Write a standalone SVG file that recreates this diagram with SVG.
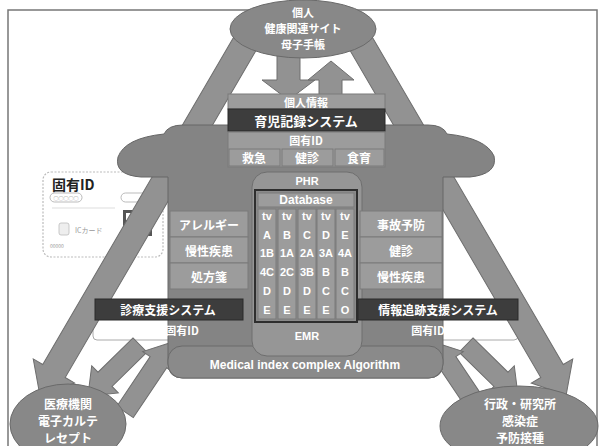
<svg xmlns="http://www.w3.org/2000/svg" width="604" height="446" viewBox="0 0 604 446">
  <style>
    .t { font-family: "Noto Sans CJK JP", "Noto Sans", sans-serif; font-weight: bold; fill: #ffffff; text-anchor: middle; dominant-baseline: central; }
    .lat { font-family: "Liberation Sans", "Noto Sans", sans-serif; }
    .s12 { font-size: 12px; }
    .s11 { font-size: 11px; }
    .s13 { font-size: 13px; }
    .flow { fill: #929292; stroke: #6e6e6e; stroke-width: 1; }
    .oval { fill: #888888; stroke: #6a6a6a; stroke-width: 1; }
    .cell { fill: #9c9c9c; stroke: #7a7a7a; stroke-width: 1; }
    .dark { fill: #3d3d3d; stroke: #2a2a2a; stroke-width: 1; }
    .idbox { fill: #ffffff; stroke: #aaaaaa; stroke-width: 1; }
    .grid { font-family: "Liberation Sans", sans-serif; font-weight: bold; font-size: 11px; fill: #ffffff; text-anchor: middle; dominant-baseline: central; }
  </style>

  <rect x="0" y="0" width="604" height="446" fill="#ffffff"/>
  <!-- outer frame -->
  <rect x="8" y="10" width="589" height="446" fill="none" stroke="#777" stroke-width="1.5"/>

  <!-- ID card -->
  <g id="id-card">
    <rect x="43" y="172" width="120" height="85" rx="8" fill="#ffffff" stroke="#bbbbbb" stroke-width="1.2" stroke-dasharray="2 1.5"/>
    <text x="52" y="184" font-family="Noto Sans CJK JP, sans-serif" font-weight="bold" font-size="14" fill="#222" dominant-baseline="central">固有ID</text>
    <rect x="50" y="193" width="32" height="9" rx="4.5" fill="#fff" stroke="#aaa" stroke-width="0.8"/>
    <text x="66" y="197.5" font-family="Noto Sans CJK JP, sans-serif" font-size="5" fill="#777" text-anchor="middle" dominant-baseline="central">○○○○○</text>
    <rect x="121" y="193" width="32" height="9" rx="4.5" fill="#fff" stroke="#aaa" stroke-width="0.8"/>
    <line x1="52" y1="208" x2="115" y2="208" stroke="#ddd" stroke-width="1"/>
    <rect x="59" y="223" width="10" height="12" rx="2" fill="#eee" stroke="#bbb" stroke-width="0.8"/>
    <text x="75" y="230" font-family="Noto Sans CJK JP, sans-serif" font-size="7" fill="#999" dominant-baseline="central">ICカード</text>
    <text x="50" y="245" font-family="Noto Sans CJK JP, sans-serif" font-size="5" fill="#999" dominant-baseline="central">00000</text>
    <!-- QR code -->
    <rect x="123" y="210" width="29" height="26" fill="#555"/>
    <rect x="126" y="213" width="7" height="7" fill="#fff"/>
    <rect x="142" y="213" width="7" height="7" fill="#fff"/>
    <rect x="126" y="226" width="7" height="7" fill="#fff"/>
    <rect x="136" y="222" width="4" height="4" fill="#fff"/>
    <rect x="143" y="228" width="5" height="3" fill="#fff"/>
  </g>

  <!-- ID strips under the support-system bars -->
  <rect class="idbox" x="93" y="316" width="150" height="24" rx="4"/>
  <rect class="idbox" x="368" y="316" width="150" height="24" rx="4"/>

  <!-- connectors -->
  <g id="connectors">
    <!-- large diagonal flows -->
    <path class="flow" transform="translate(250 35) rotate(120.26)" d="M0,-13 L389,-13 L389,-24 L417,0 L389,24 L389,13 L0,13 Z"/>
    <path class="flow" transform="translate(356 35) rotate(59.74)" d="M0,-13 L389,-13 L389,-24 L417,0 L389,24 L389,13 L0,13 Z"/>
    <!-- exchange with the personal node -->
    <path class="flow" d="M277,48 L300,48 L300,80 L315,80 L288.5,100 L262,80 L277,80 Z"/>
    <path class="flow" d="M319,98 L319,80 L308,80 L331,61 L354,80 L342,80 L342,98 Z"/>
    <!-- exchange with the hospital node -->
    <path class="flow" transform="translate(140 345) rotate(135.55)" d="M0,-10 L49,-10 L49,-19 L73,0 L49,19 L49,10 L0,10 Z"/>
    <path class="flow" transform="translate(125 412) rotate(-56.1)" d="M0,-10 L60,-10 L60,-19 L84,0 L60,19 L60,10 L0,10 Z"/>
    <!-- exchange with the government node -->
    <path class="flow" transform="translate(466 345) rotate(44.45)" d="M0,-10 L49,-10 L49,-19 L73,0 L49,19 L49,10 L0,10 Z"/>
    <path class="flow" transform="translate(481 412) rotate(-123.9)" d="M0,-10 L60,-10 L60,-19 L84,0 L60,19 L60,10 L0,10 Z"/>
  </g>

  <!-- personal node -->
  <g id="personal">
    <ellipse class="oval" cx="303" cy="29" rx="73" ry="29"/>
    <text class="t s11" x="303" y="12">個人</text>
    <text class="t s11" x="303" y="28">健康関連サイト</text>
    <text class="t s11" x="303" y="44">母子手帳</text>
  </g>

  <!-- central system body -->
  <g id="core">
    <path d="M183,125 L428,125 Q443,125 447,134 Q486,138 494,156 Q498,174 470,177 L443,177 L443,363 Q443,378 428,378 L183,378 Q168,378 168,363 L168,177 L141,177 Q114,175 118,157 Q125,138 164,134 Q168,125 183,125 Z" fill="#848484" stroke="#666" stroke-width="1"/>
    <rect x="168" y="346" width="275" height="32" rx="14" fill="#8a8a8a" stroke="#6a6a6a" stroke-width="1"/>
    <text class="t s12 lat" x="305" y="365">Medical index complex Algorithm</text>
  </g>

  <g id="childcare">
    <rect class="cell" x="228" y="94" width="157" height="15"/>
    <text class="t s11" x="306" y="101.5">個人情報</text>
    <rect class="dark" x="228" y="109" width="157" height="22"/>
    <text class="t s13" x="306" y="120">育児記録システム</text>
    <rect class="cell" x="228" y="132" width="157" height="35"/>
    <text class="t s11" x="306" y="140">固有ID</text>
    <rect class="cell" x="229" y="149" width="51" height="17"/>
    <rect class="cell" x="282" y="149" width="51" height="17"/>
    <rect class="cell" x="335" y="149" width="49" height="17"/>
    <text class="t s12" x="254" y="157.5">救急</text>
    <text class="t s12" x="307" y="157.5">健診</text>
    <text class="t s12" x="359" y="157.5">食育</text>
  </g>

  <g id="phr-db">
    <rect x="252" y="172" width="110" height="184" rx="15" fill="#969696" stroke="#6e6e6e" stroke-width="1"/>
    <text class="t s11 lat" x="307" y="181">PHR</text>
    <rect x="255" y="190" width="102" height="132" fill="#8a8a8a" stroke="#2e2e2e" stroke-width="2"/>
    <rect class="cell" x="258" y="193" width="96" height="14"/>
    <text class="t s12 lat" x="306" y="200">Database</text>
    <rect class="cell" x="258" y="209" width="18" height="110"/>
    <rect class="cell" x="278" y="209" width="18" height="110"/>
    <rect class="cell" x="298" y="209" width="18" height="110"/>
    <rect class="cell" x="317" y="209" width="18" height="110"/>
    <rect class="cell" x="336" y="209" width="18" height="110"/>
    <text class="grid" x="267" y="216">tv</text><text class="grid" x="287" y="216">tv</text><text class="grid" x="307" y="216">tv</text><text class="grid" x="326" y="216">tv</text><text class="grid" x="345" y="216">tv</text>
    <text class="grid" x="267" y="235">A</text><text class="grid" x="287" y="235">B</text><text class="grid" x="307" y="235">C</text><text class="grid" x="326" y="235">D</text><text class="grid" x="345" y="235">E</text>
    <text class="grid" x="267" y="253">1B</text><text class="grid" x="287" y="253">1A</text><text class="grid" x="307" y="253">2A</text><text class="grid" x="326" y="253">3A</text><text class="grid" x="345" y="253">4A</text>
    <text class="grid" x="267" y="272">4C</text><text class="grid" x="287" y="272">2C</text><text class="grid" x="307" y="272">3B</text><text class="grid" x="326" y="272">B</text><text class="grid" x="345" y="272">B</text>
    <text class="grid" x="267" y="291">D</text><text class="grid" x="287" y="291">D</text><text class="grid" x="307" y="291">D</text><text class="grid" x="326" y="291">C</text><text class="grid" x="345" y="291">C</text>
    <text class="grid" x="267" y="310">E</text><text class="grid" x="287" y="310">E</text><text class="grid" x="307" y="310">E</text><text class="grid" x="326" y="310">E</text><text class="grid" x="345" y="310">O</text>
    <text class="t s11 lat" x="307" y="336">EMR</text>
  </g>

  <g id="clinical-items">
    <rect class="cell" x="170" y="211" width="78" height="26"/>
    <rect class="cell" x="170" y="237" width="78" height="26"/>
    <rect class="cell" x="170" y="263" width="78" height="26"/>
    <text class="t s12" x="209" y="224">アレルギー</text>
    <text class="t s12" x="209" y="250">慢性疾患</text>
    <text class="t s12" x="209" y="276">処方箋</text>
  </g>

  <g id="public-items">
    <rect class="cell" x="360" y="211" width="82" height="26"/>
    <rect class="cell" x="360" y="237" width="82" height="26"/>
    <rect class="cell" x="360" y="263" width="82" height="26"/>
    <text class="t s12" x="401" y="224">事故予防</text>
    <text class="t s12" x="401" y="250">健診</text>
    <text class="t s12" x="401" y="276">慢性疾患</text>
  </g>

  <g id="clinical-support">
    <rect class="dark" x="95" y="299" width="148" height="21"/>
    <text class="t s12" x="168" y="309.5">診療支援システム</text>
    <text class="t s11" x="182" y="330">固有ID</text>
  </g>

  <g id="tracking-support">
    <rect class="dark" x="358" y="299" width="160" height="21"/>
    <text class="t s12" x="438" y="309.5">情報追跡支援システム</text>
    <text class="t s11" x="428" y="330">固有ID</text>
  </g>

  <g id="hospital">
    <ellipse class="oval" cx="68" cy="424" rx="58" ry="40"/>
    <text class="t s12" x="68" y="403">医療機関</text>
    <text class="t s12" x="68" y="420">電子カルテ</text>
    <text class="t s12" x="68" y="437">レセプト</text>
  </g>

  <g id="government">
    <ellipse class="oval" cx="519" cy="426" rx="79" ry="40"/>
    <text class="t s12" x="520" y="403">行政・研究所</text>
    <text class="t s12" x="520" y="420">感染症</text>
    <text class="t s12" x="520" y="437">予防接種</text>
  </g>
</svg>
